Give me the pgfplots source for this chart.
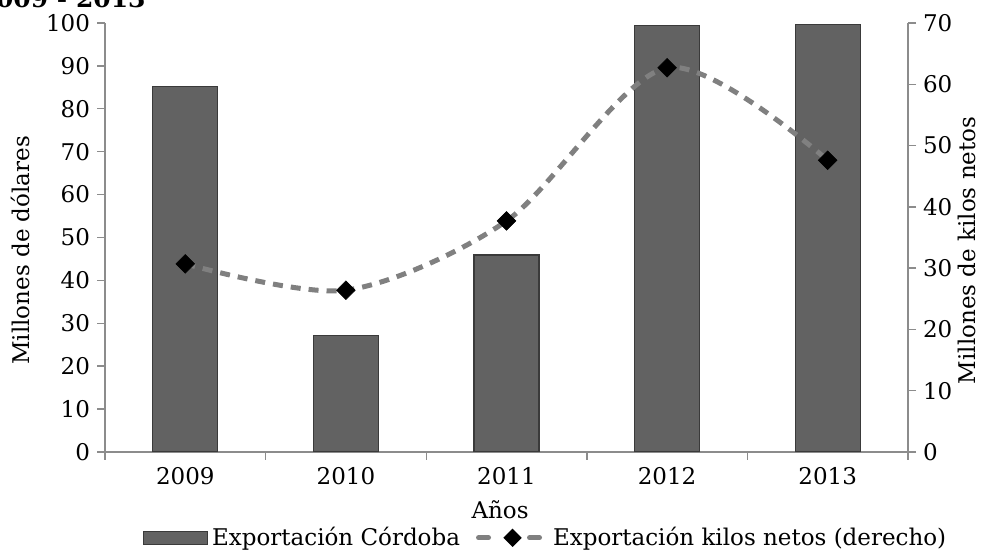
\documentclass[border=0pt]{standalone}
\usepackage{pgfplots}
\pgfplotsset{compat=1.18}
\usepackage{fontspec}
\setmainfont{DejaVu Serif}
\definecolor{axisgray}{HTML}{8C8C8C}
\definecolor{barfill}{HTML}{626262}
\definecolor{baredge}{HTML}{3A3A3A}
\definecolor{linegray}{HTML}{808080}
\begin{document}
\begin{tikzpicture}[font=\fontsize{11.5}{13.8}\selectfont]
\useasboundingbox (0,0) rectangle (500pt,275pt);
\node[anchor=base east, font=\bfseries\fontsize{12.5}{14}\selectfont, inner sep=0pt] at (73pt,271pt) {2009 - 2013};
\begin{axis}[
  at={(52.5pt,49pt)}, anchor=south west,
  scale only axis, width=401.5pt, height=214.5pt,
  xmin=-0.5, xmax=4.5, ymin=0, ymax=100,
  axis y line*=left, axis x line*=bottom,
  axis line style={draw=axisgray, line width=0.7pt},
  tick align=outside, major tick length=4pt, minor tick length=4pt,
  tick style={draw=axisgray, line width=0.7pt},
  xtick={0,1,2,3,4}, xticklabels={2009,2010,2011,2012,2013},
  major x tick style={draw=none},
  minor xtick={-0.5,0.5,1.5,2.5,3.5,4.5},
  ytick={0,10,...,100},
  /pgf/number format/assume math mode=true,
  xlabel={Años},
  xlabel style={at={(axis description cs:0.492,-0.135)}, anchor=center},
  ylabel={Millones de dólares},
  ylabel style={at={(axis description cs:-0.105,0.47)}, anchor=center},
]
\addplot[ybar, bar width=32.5pt, fill=barfill, draw=baredge, line width=0.6pt]
  coordinates {(0,85.2) (1,27.2) (2,45.9) (3,99.5) (4,99.6)};
\end{axis}
\begin{axis}[
  at={(52.5pt,49pt)}, anchor=south west,
  scale only axis, width=401.5pt, height=214.5pt,
  xmin=-0.5, xmax=4.5, ymin=0, ymax=70,
  axis y line*=right, axis x line=none,
  axis line style={draw=axisgray, line width=0.7pt},
  tick align=outside, major tick length=4pt,
  tick style={draw=axisgray, line width=0.7pt},
  ytick={0,10,...,70},
  /pgf/number format/assume math mode=true,
  ylabel={Millones de kilos netos},
  ylabel style={at={(axis description cs:1.073,0.47)}, anchor=center, rotate=0},
  legend style={at={(axis description cs:0.55,-0.2)}, anchor=center, draw=none, fill=none,
    legend columns=-1, /tikz/every even column/.append style={column sep=6pt},
    inner sep=0pt},
]
\addlegendimage{legend image code/.code={\draw[fill=barfill,draw=baredge,line width=0.5pt] (0pt,-3.2pt) rectangle (32pt,3.2pt);}}
\addlegendentry{Exportación Córdoba}
\addplot[smooth, color=linegray, line width=2.5pt, dash pattern=on 5pt off 4pt,
  mark=square*, mark size=3.3pt,
  mark options={solid, fill=black, draw=black, line width=0.3pt, rotate=45},
  legend image code/.code={
    \draw[linegray, line width=2.5pt, line cap=round] (1.5pt,0pt) -- (10pt,0pt);
    \draw[linegray, line width=2.5pt, line cap=round] (27pt,0pt) -- (35.5pt,0pt);
    \path (18.5pt,0pt) node[fill=black, rotate=45, minimum size=6.5pt, inner sep=0pt] {};}]
  coordinates {(0,30.7) (1,26.4) (2,37.7) (3,62.7) (4,47.6)};
\addlegendentry{Exportación kilos netos (derecho)}
\end{axis}
\end{tikzpicture}
\end{document}
